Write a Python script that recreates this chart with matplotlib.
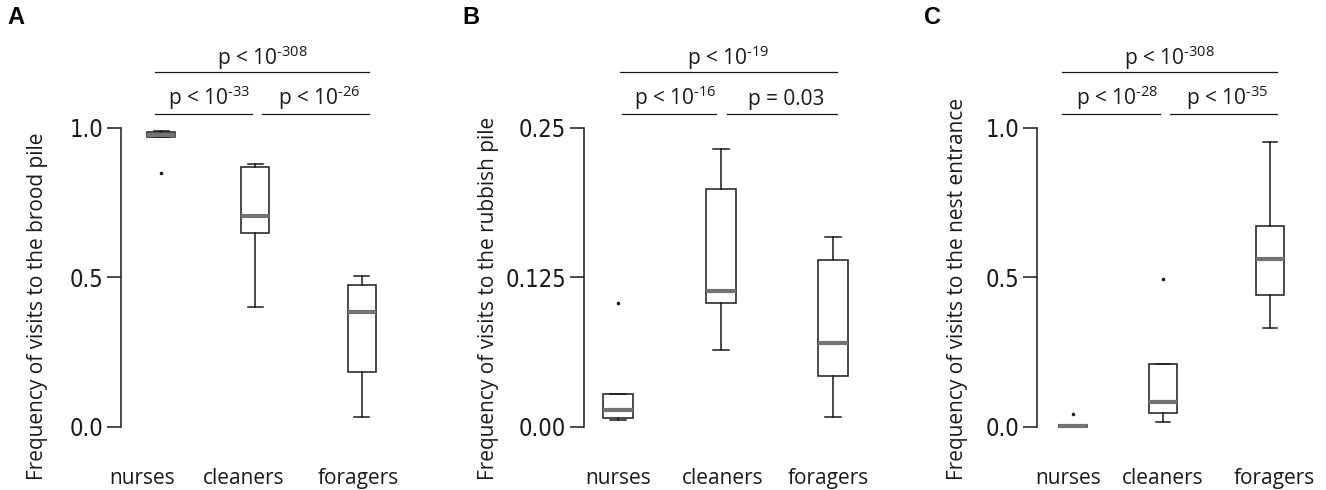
import numpy as np
import matplotlib
matplotlib.use('Agg')
import matplotlib.pyplot as plt
import matplotlib.transforms as mtransforms
from matplotlib import font_manager

plt.rcParams['font.family'] = ['Open Sans', 'DejaVu Sans']
plt.rcParams['mathtext.fontset'] = 'custom'
plt.rcParams['mathtext.rm'] = 'Open Sans'
plt.rcParams['mathtext.it'] = 'Open Sans:italic'
plt.rcParams['mathtext.bf'] = 'Open Sans:bold'

groups = ['nurses', 'cleaners', 'foragers']

# box stats: lower whisker, q1, median, q3, upper whisker
brood_low = [0.968, 0.401, 0.033]
brood_q1 = [0.969, 0.650, 0.183]
brood_med = [0.977, 0.705, 0.383]
brood_q3 = [0.985, 0.871, 0.474]
brood_high = [0.989, 0.881, 0.504]
brood_fliers = [[0.848], [], []]

rubbish_low = [0.0058, 0.0646, 0.008]
rubbish_q1 = [0.0078, 0.104, 0.0423]
rubbish_med = [0.0139, 0.114, 0.0705]
rubbish_q3 = [0.0278, 0.199, 0.140]
rubbish_high = [0.0278, 0.232, 0.159]
rubbish_fliers = [[0.104], [], []]

entrance_low = [0.0, 0.018, 0.332]
entrance_q1 = [0.0, 0.048, 0.442]
entrance_med = [0.002, 0.084, 0.563]
entrance_q3 = [0.005, 0.212, 0.673]
entrance_high = [0.005, 0.212, 0.953]
entrance_fliers = [[0.045], [0.494], []]

# p-values: all three groups, nurses-cleaners, cleaners-foragers
brood_p = [r'p < 10$^{\text{-308}}$', r'p < 10$^{\text{-33}}$', r'p < 10$^{\text{-26}}$']
rubbish_p = [r'p < 10$^{\text{-19}}$', r'p < 10$^{\text{-16}}$', 'p = 0.03']
entrance_p = [r'p < 10$^{\text{-308}}$', r'p < 10$^{\text{-28}}$', r'p < 10$^{\text{-35}}$']

brood_ticks = [0.0, 0.5, 1.0]
brood_ticklabels = ['0.0', '0.5', '1.0']
rubbish_ticks = [0.0, 0.125, 0.25]
rubbish_ticklabels = ['0.00', '0.125', '0.25']
entrance_ticks = [0.0, 0.5, 1.0]
entrance_ticklabels = ['0.0', '0.5', '1.0']

ylabels = ['Frequency of visits to the brood pile',
           'Frequency of visits to the rubbish pile',
           'Frequency of visits to the nest entrance']

# narrow font for the tick numbers, whatever is around
installed = font_manager.fontManager.ttflist
names = {f.name for f in installed}
if 'Liberation Sans Narrow' in names:
    tick_font = dict(family='Liberation Sans Narrow', stretch='normal', size=19)
elif any(f.name == 'DejaVu Sans' and str(f.stretch) == 'condensed' for f in installed):
    tick_font = dict(family='DejaVu Sans', stretch='condensed', size=17)
else:
    tick_font = dict(family='Liberation Sans', stretch='normal', size=16)

W, H = 1326, 490
fig = plt.figure(figsize=(W / 100, H / 100), dpi=100)

TOP_PX, BOT_PX = 38.5, 442.0
INK = '#1a1a1a'


def make_stats(low, q1, med, q3, high, fliers):
    out = []
    for i in range(len(low)):
        out.append(dict(whislo=low[i], q1=q1[i], med=med[i], q3=q3[i],
                        whishi=high[i], fliers=fliers[i]))
    return out


def draw_panel(left_px, ppu, xlo, xhi, pos, labelpos, bars, stats, pvals,
               ticks, ticklabels, ymax, letter, letter_x, ylabel, ylabel_x):
    right_px = left_px + (xhi - xlo) * ppu
    ax = fig.add_axes([left_px / W, 1 - BOT_PX / H, (right_px - left_px) / W,
                       (BOT_PX - TOP_PX) / H])
    ax.set_xlim(xlo, xhi)
    ax.set_ylim(-0.0502 * ymax, 1.299 * ymax)

    ax.bxp(stats, positions=pos, widths=0.28, capwidths=0.15, patch_artist=True,
           boxprops=dict(facecolor='white', edgecolor=INK, linewidth=1.1),
           medianprops=dict(color='#737373', linewidth=3.0, solid_capstyle='butt'),
           whiskerprops=dict(color=INK, linewidth=1.1),
           capprops=dict(color=INK, linewidth=1.1),
           flierprops=dict(marker='o', markersize=2.6, markerfacecolor=INK,
                           markeredgecolor='none'))

    for s in ['top', 'right', 'bottom']:
        ax.spines[s].set_visible(False)
    ax.spines['left'].set_bounds(0, ymax)
    ax.spines['left'].set_linewidth(1.1)
    ax.spines['left'].set_color(INK)
    ax.set_yticks(ticks, ticklabels)
    ax.tick_params(axis='y', direction='out', length=10, width=1.1, pad=3,
                   colors=INK)
    for t in ax.get_yticklabels():
        t.set_family(tick_font['family'])
        t.set_stretch(tick_font['stretch'])
        t.set_size(tick_font['size'])
    ax.set_xticks([])

    trans = mtransforms.blended_transform_factory(ax.transData, ax.transAxes)
    for xp, g in zip(labelpos, groups):
        ax.text(xp, -0.104, g, transform=trans, ha='center', va='baseline',
                fontsize=15, color=INK)

    # significance bars
    (t0, t1), (l0, l1), (r0, r1) = bars
    ax.plot([t0, t1], [1.186 * ymax] * 2, color=INK, lw=0.9, clip_on=False)
    ax.plot([l0, l1], [1.047 * ymax] * 2, color=INK, lw=0.9, clip_on=False)
    ax.plot([r0, r1], [1.047 * ymax] * 2, color=INK, lw=0.9, clip_on=False)
    ax.text((t0 + t1) / 2, 1.211 * ymax, pvals[0], ha='center', va='baseline',
            fontsize=15, color=INK)
    ax.text((l0 + l1) / 2 + 0.06, 1.078 * ymax, pvals[1], ha='center', va='baseline',
            fontsize=15, color=INK)
    ax.text((r0 + r1) / 2 + 0.04, 1.078 * ymax, pvals[2], ha='center', va='baseline',
            fontsize=15, color=INK)

    fig.text(letter_x / W, 1 - 6 / H, letter, fontsize=17, fontweight='bold',
             family=['Liberation Sans', 'DejaVu Sans'], va='top', ha='left')
    fig.text(ylabel_x / W, 1 - 480 / H, ylabel, rotation=90, ha='center',
             va='bottom', fontsize=15, color=INK)
    return ax


draw_panel(121, 100.4, 0.6, 3.4, [1, 1.935, 3], [0.81, 1.82, 2.96],
           [(0.939, 3.07), (0.939, 1.905), (2.004, 3.07)],
           make_stats(brood_low, brood_q1, brood_med, brood_q3, brood_high, brood_fliers),
           brood_p, brood_ticks, brood_ticklabels, 1.0, 'A', 7, ylabels[0], 37.5)

draw_panel(584, 107.5, 0.684, 3.3, [1, 1.958, 3], [1.005, 1.97, 2.96],
           [(1.019, 3.037), (1.037, 1.912), (2.014, 3.037)],
           make_stats(rubbish_low, rubbish_q1, rubbish_med, rubbish_q3, rubbish_high,
                      rubbish_fliers),
           rubbish_p, rubbish_ticks, rubbish_ticklabels, 0.25, 'B', 462, ylabels[1], 488)

draw_panel(1037, 98.5, 0.635, 3.35, [1, 1.914, 3], [0.955, 1.914, 3.04],
           [(0.889, 3.072), (0.889, 1.884), (1.985, 3.072)],
           make_stats(entrance_low, entrance_q1, entrance_med, entrance_q3,
                      entrance_high, entrance_fliers),
           entrance_p, entrance_ticks, entrance_ticklabels, 1.0, 'C', 924, ylabels[2], 957.5)

fig.savefig('out.png', dpi=100)
